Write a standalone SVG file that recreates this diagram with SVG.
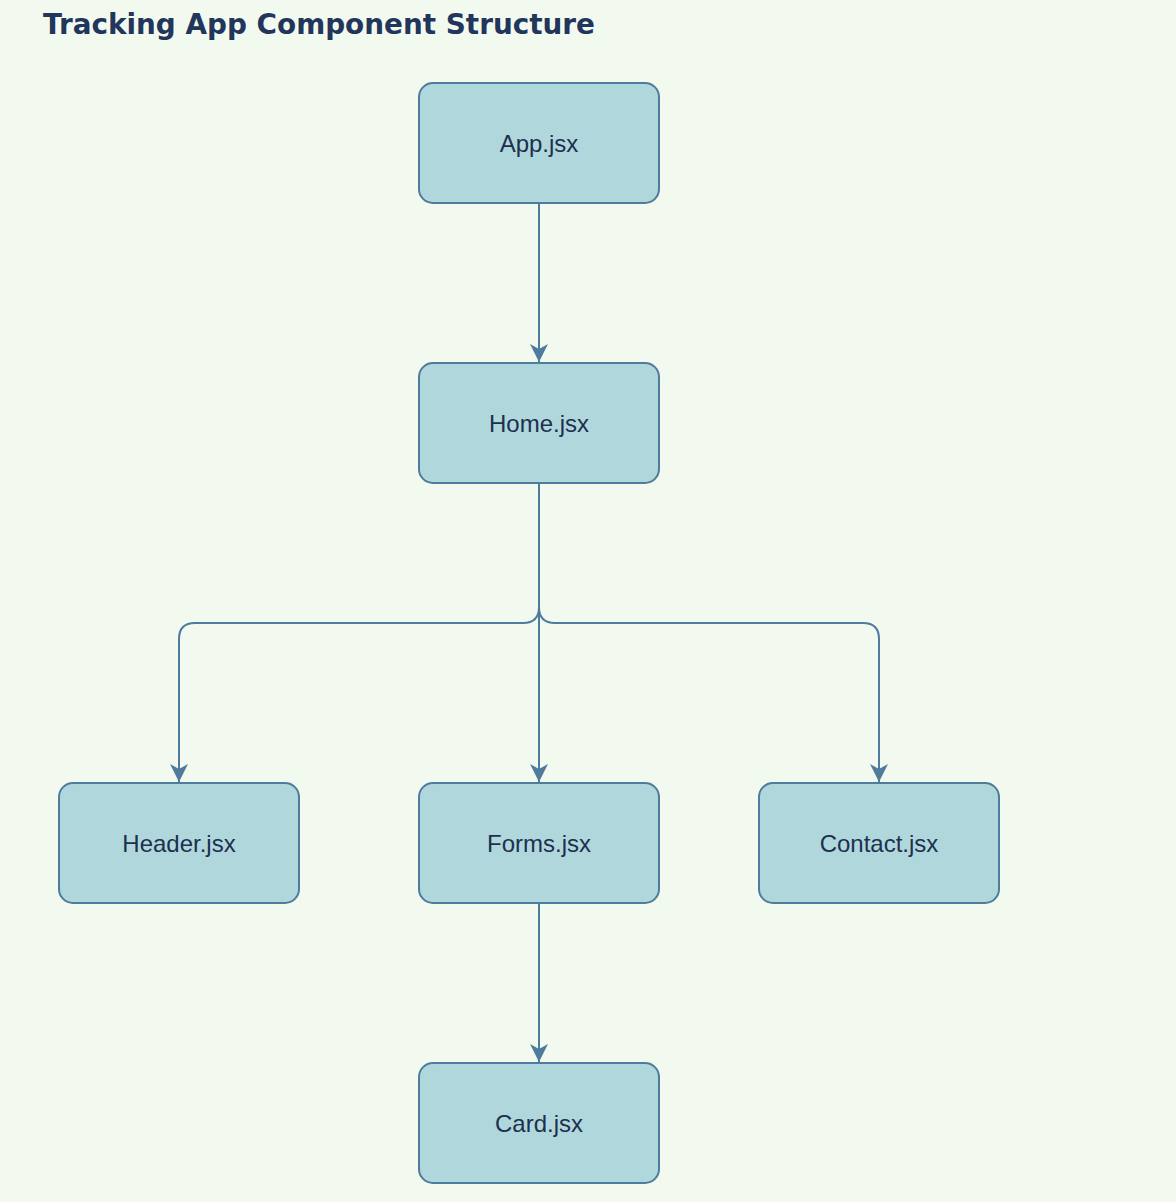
<svg xmlns="http://www.w3.org/2000/svg" width="1176" height="1202" viewBox="0 0 1176 1202">
<style>
.node rect{fill:#b0d8dc;stroke:#4f7b9c;stroke-width:2}
.node text{font-family:"Liberation Sans",Arial,sans-serif;font-size:24px;fill:#1e2f4f;text-anchor:middle}
.edge{fill:none;stroke:#4f7b9c;stroke-width:2}
.title{font-family:"DejaVu Sans",Verdana,sans-serif;font-weight:bold;font-size:27.5px;fill:#22355a}
</style>
<defs>
<marker id="arr" viewBox="0 0 18 18" markerWidth="18" markerHeight="18" refX="18" refY="9" orient="auto" markerUnits="userSpaceOnUse">
<path d="M0,0 L18,9 L0,18 L5,9 z" fill="#4f7b9c"/>
</marker>
</defs>
<rect width="1176" height="1202" fill="#f2faf0"/>
<text class="title" x="43" y="34" textLength="552" lengthAdjust="spacingAndGlyphs">Tracking App Component Structure</text>
<g id="connectors">
<path class="edge" d="M539,203 L539,362" marker-end="url(#arr)"/>
<path class="edge" d="M539,483 L539,607 Q539,623 523,623 L195,623 Q179,623 179,639 L179,782" marker-end="url(#arr)"/>
<path class="edge" d="M539,483 L539,782" marker-end="url(#arr)"/>
<path class="edge" d="M539,483 L539,607 Q539,623 555,623 L863,623 Q879,623 879,639 L879,782" marker-end="url(#arr)"/>
<path class="edge" d="M539,903 L539,1062" marker-end="url(#arr)"/>
</g>
<g id="app" class="node"><rect x="419" y="83" width="240" height="120" rx="14"/><text x="539" y="152">App.jsx</text></g>
<g id="home" class="node"><rect x="419" y="363" width="240" height="120" rx="14"/><text x="539" y="432">Home.jsx</text></g>
<g id="header" class="node"><rect x="59" y="783" width="240" height="120" rx="14"/><text x="179" y="852">Header.jsx</text></g>
<g id="forms" class="node"><rect x="419" y="783" width="240" height="120" rx="14"/><text x="539" y="852">Forms.jsx</text></g>
<g id="contact" class="node"><rect x="759" y="783" width="240" height="120" rx="14"/><text x="879" y="852">Contact.jsx</text></g>
<g id="card" class="node"><rect x="419" y="1063" width="240" height="120" rx="14"/><text x="539" y="1132">Card.jsx</text></g>
</svg>
